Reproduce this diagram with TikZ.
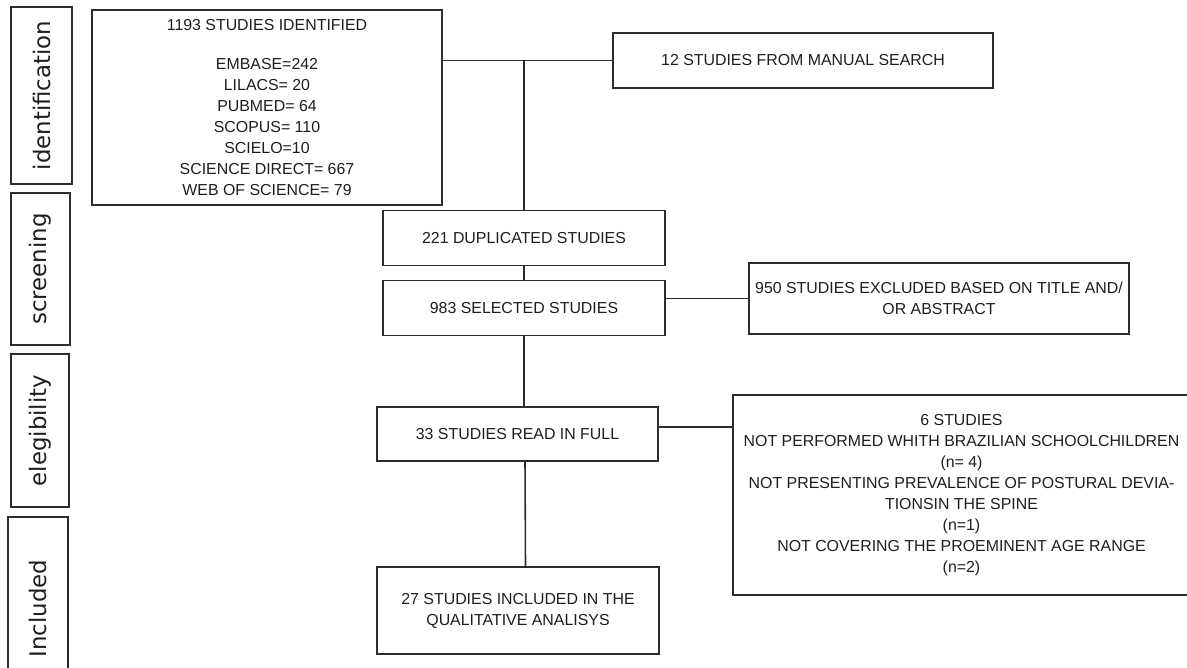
\documentclass[tikz,border=0pt]{standalone}
\usepackage{fontspec}
\setmainfont{Liberation Sans}
\newfontfamily\stagefont{DejaVu Sans}
\usetikzlibrary{positioning}
\definecolor{LineColor}{RGB}{45,45,45}
\definecolor{TextColor}{RGB}{30,30,30}
\tikzstyle{box} = [draw=LineColor, line width=1.1pt, text=TextColor, align=center, inner sep=0pt, font=\fontsize{9.05}{12}\selectfont]
\tikzstyle{stage} = [draw=LineColor, line width=1pt, text=TextColor, rotate=90, inner sep=0pt, font=\stagefont\fontsize{13}{15}\selectfont]
\tikzstyle{link} = [LineColor, line width=0.9pt]

\begin{document}
\begin{tikzpicture}[x=0.2mm, y=-0.2mm]
            \clip (0,0) rectangle (1187,668);

            % Stage labels
            \node[stage, minimum width=35.4mm, minimum height=12.2mm] (lblident) at (41.5,95.5) {identification};
            \node[stage, minimum width=30.4mm, minimum height=11.8mm] (lblscreen) at (40.5,269) {screening};
            \node[stage, minimum width=30.6mm, minimum height=11.6mm] (lblelig) at (40,430.5) {elegibility};
            \node[stage, minimum width=36.6mm, minimum height=12mm] (lblincl) at (38,608.5) {Included};

            % Identification
            \node[box, minimum width=70mm, minimum height=39mm] (ident) at (267,107.5) {1193 STUDIES IDENTIFIED\\[3.6mm]
                EMBASE=242\\ LILACS= 20\\ PUBMED= 64\\ SCOPUS= 110\\ SCIELO=10\\ SCIENCE DIRECT= 667\\ WEB OF SCIENCE= 79};
            \node[box, minimum width=76mm, minimum height=11mm] (manual) at (803,60.5) {12 STUDIES FROM MANUAL SEARCH};

            % Screening
            \node[box, minimum width=56.4mm, minimum height=11mm] (dup) at (524,238) {221 DUPLICATED STUDIES};
            \node[box, minimum width=56.4mm, minimum height=11mm] (sel) at (524,308) {983 SELECTED STUDIES};
            \node[box, minimum width=76mm, minimum height=14.2mm] (excl) at (939,298.5) {950 STUDIES EXCLUDED BASED ON TITLE AND/\\OR ABSTRACT};

            % Elegibility
            \node[box, minimum width=56.2mm, minimum height=10.8mm] (full) at (517.5,434) {33 STUDIES READ IN FULL};
            \node[box, minimum width=91.4mm, minimum height=40mm] (notin) at (961.5,495) {6 STUDIES\\
                NOT PERFORMED WHITH BRAZILIAN SCHOOLCHILDREN\\ (n= 4)\\
                NOT PRESENTING PREVALENCE OF POSTURAL DEVIA-\\ TIONSIN THE SPINE\\ (n=1)\\
                NOT COVERING THE PROEMINENT AGE RANGE\\ (n=2)};

            % Included
            \node[box, minimum width=56.4mm, minimum height=17.4mm] (incl) at (518,610.5) {27 STUDIES INCLUDED IN THE\\QUALITATIVE ANALISYS};

            % Connections
            \draw[link] (ident.east |- manual.west) -- (manual.west);
            \draw[link] (dup.north |- manual.west) -- (dup.north);
            \draw[link] (dup) -- (sel);
            \draw[link] (sel.east |- excl.west) -- (excl.west);
            \draw[link] (sel.south) -- (sel.south |- full.north);
            \draw[link] ([yshift=1.4mm]full.east) -- ([yshift=1.4mm]full.east -| notin.west);
            \draw[link] ([xshift=1.5mm]full.south) -- ([xshift=1.5mm]incl.north);
\end{tikzpicture}
\end{document}
